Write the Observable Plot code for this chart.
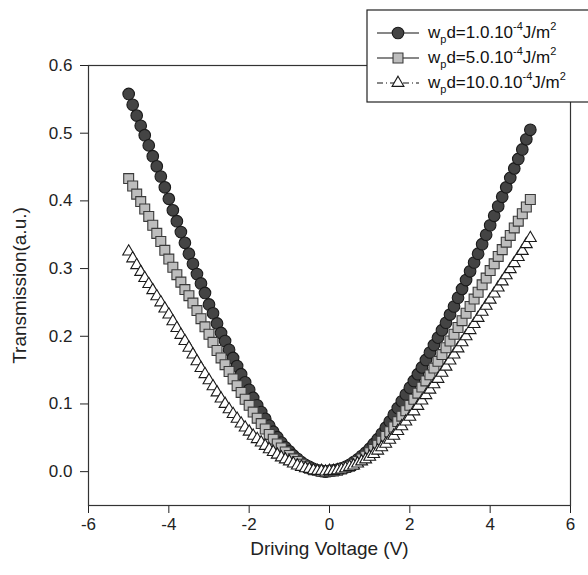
<!DOCTYPE html>
<html><head><meta charset="utf-8">
<script src="https://cdn.jsdelivr.net/npm/d3@7"></script>
<script src="https://cdn.jsdelivr.net/npm/@observablehq/plot@0.6"></script>
<style>
body{margin:0;background:#fff;}
#wrap{position:relative;width:588px;height:575px;overflow:hidden;}
</style></head><body><div id="wrap"></div>
<script>
const voltage = [-5.0,-4.9,-4.8,-4.7,-4.6,-4.5,-4.4,-4.3,-4.2,-4.1,-4.0,-3.9,-3.8,-3.7,-3.6,-3.5,-3.4,-3.3,-3.2,-3.1,-3.0,-2.9,-2.8,-2.7,-2.6,-2.5,-2.4,-2.3,-2.2,-2.1,-2.0,-1.9,-1.8,-1.7,-1.6,-1.5,-1.4,-1.3,-1.2,-1.1,-1.0,-0.9,-0.8,-0.7,-0.6,-0.5,-0.4,-0.3,-0.2,-0.1,0.0,0.1,0.2,0.3,0.4,0.5,0.6,0.7,0.8,0.9,1.0,1.1,1.2,1.3,1.4,1.5,1.6,1.7,1.8,1.9,2.0,2.1,2.2,2.3,2.4,2.5,2.6,2.7,2.8,2.9,3.0,3.1,3.2,3.3,3.4,3.5,3.6,3.7,3.8,3.9,4.0,4.1,4.2,4.3,4.4,4.5,4.6,4.7,4.8,4.9,5.0];

const wp1 = [0.558,0.542,0.526,0.511,0.497,0.482,0.466,0.451,0.436,0.420,0.403,0.386,0.370,0.354,0.338,0.322,0.307,0.292,0.278,0.264,0.247,0.234,0.219,0.205,0.193,0.180,0.168,0.156,0.144,0.132,0.121,0.109,0.098,0.088,0.078,0.068,0.059,0.051,0.043,0.036,0.030,0.024,0.019,0.014,0.010,0.007,0.004,0.002,0.001,0.000,0.001,0.002,0.003,0.005,0.007,0.010,0.014,0.018,0.023,0.028,0.034,0.041,0.048,0.056,0.065,0.074,0.084,0.094,0.104,0.114,0.124,0.134,0.144,0.154,0.165,0.176,0.187,0.198,0.209,0.220,0.232,0.244,0.257,0.270,0.283,0.296,0.309,0.322,0.336,0.350,0.364,0.378,0.392,0.406,0.420,0.434,0.448,0.462,0.476,0.491,0.505];

const wp5 = [0.433,0.422,0.410,0.399,0.388,0.377,0.364,0.352,0.340,0.327,0.314,0.302,0.291,0.280,0.269,0.260,0.249,0.238,0.226,0.214,0.203,0.191,0.179,0.168,0.158,0.148,0.137,0.127,0.117,0.107,0.098,0.088,0.079,0.071,0.063,0.055,0.048,0.041,0.035,0.029,0.024,0.019,0.015,0.011,0.008,0.005,0.003,0.002,0.001,0.000,0.001,0.001,0.002,0.004,0.006,0.008,0.011,0.015,0.019,0.023,0.028,0.033,0.039,0.045,0.052,0.059,0.066,0.074,0.082,0.090,0.098,0.107,0.116,0.125,0.134,0.143,0.153,0.163,0.173,0.183,0.193,0.203,0.213,0.223,0.234,0.244,0.255,0.265,0.276,0.286,0.297,0.307,0.318,0.328,0.339,0.349,0.360,0.370,0.381,0.391,0.402];

const wp10 = [0.325,0.315,0.305,0.295,0.286,0.277,0.268,0.259,0.250,0.241,0.232,0.222,0.212,0.202,0.193,0.183,0.173,0.163,0.153,0.144,0.135,0.126,0.117,0.108,0.100,0.092,0.085,0.078,0.071,0.065,0.059,0.053,0.048,0.043,0.038,0.033,0.029,0.025,0.021,0.018,0.015,0.012,0.009,0.007,0.005,0.004,0.002,0.001,0.001,0.000,0.001,0.001,0.002,0.003,0.005,0.007,0.009,0.012,0.015,0.018,0.022,0.026,0.031,0.036,0.041,0.047,0.053,0.060,0.067,0.074,0.081,0.089,0.097,0.105,0.113,0.121,0.129,0.137,0.146,0.155,0.164,0.173,0.182,0.191,0.200,0.209,0.218,0.227,0.236,0.245,0.254,0.263,0.272,0.281,0.290,0.299,0.308,0.317,0.326,0.336,0.345];

const xTicks = [-6,-4,-2,0,2,4,6];
const yTicks = [0.0,0.1,0.2,0.3,0.4,0.5,0.6];

const seriesNames = ["1.0","5.0","10.0"];
const symbols = ["circle","square","triangle"];
const fills = ["#444444","#bdbdbd","#ffffff"];
const strokes = ["#1a1a1a","#3a3a3a","#1a1a1a"];
const radii = [5.8,5.6,4.4];
const dashes = [null,null,"6,3,1,3"];

const seriesVals = [wp1, wp5, wp10];
const data = seriesVals.map((vals, s) => voltage.map((v, i) => ({v, t: vals[i], s})));

const font = "'Liberation Sans', Arial, Helvetica, sans-serif";

const marks = [];
data.forEach((d, s) => {
  marks.push(Plot.line(d, {x: "v", y: "t", stroke: "#111", strokeWidth: 1, strokeDasharray: dashes[s]}));
});
data.forEach((d, s) => {
  marks.push(Plot.dot(d, {x: "v", y: "t", symbol: () => symbols[s], r: radii[s], fill: fills[s], stroke: strokes[s], strokeWidth: 1.1}));
});

const chart = Plot.plot({
  width: 588,
  height: 575,
  marginLeft: 88,
  marginRight: 18,
  marginTop: 65,
  marginBottom: 70,
  style: {fontFamily: font, fontSize: "17px", color: "#222", background: "#fff"},
  x: {domain: [-6, 6]},
  y: {domain: [-0.05, 0.6]},
  symbol: {type: "identity"},
  marks: [
    Plot.axisX({ticks: xTicks, tickSize: 8, tickPadding: 4, fontSize: 17, tickFormat: d => String(d), label: "Driving Voltage (V)", labelAnchor: "center", labelArrow: "none", labelOffset: 49}),
    Plot.axisY({ticks: yTicks, tickSize: 8, tickPadding: 8, tickFormat: d => d.toFixed(1), fontSize: 17, label: "Transmission(a.u.)", labelAnchor: "center", labelArrow: "none", labelOffset: 76}),
    ...marks,
    Plot.frame({stroke: "#333", strokeWidth: 1.2})
  ]
});
document.getElementById("wrap").appendChild(chart);

// bigger axis titles
d3.select(chart).selectAll("g[aria-label='x-axis label'] text, g[aria-label='y-axis label'] text").style("font-size", "19px");

// legend
const svg = d3.select(chart);
const lg = svg.append("g").attr("font-family", font).attr("text-anchor", "start");
lg.append("rect").attr("x", 367).attr("y", 10).attr("width", 240).attr("height", 92)
  .attr("fill", "#fff").attr("stroke", "#222").attr("stroke-width", 1.2);
const rowY = [33, 58, 83];
seriesNames.forEach((name, s) => {
  const y = rowY[s];
  lg.append("line").attr("x1", 377).attr("x2", 419).attr("y1", y).attr("y2", y)
    .attr("stroke", "#111").attr("stroke-width", 1.2).attr("stroke-dasharray", dashes[s]);
  const sym = {circle: d3.symbolCircle, square: d3.symbolSquare, triangle: d3.symbolTriangle}[symbols[s]];
  lg.append("path").attr("transform", `translate(398,${y})`)
    .attr("d", d3.symbol(sym, Math.PI * radii[s] * radii[s])())
    .attr("fill", fills[s]).attr("stroke", strokes[s]).attr("stroke-width", 1.1);
  const t = lg.append("text").attr("x", 428).attr("y", y + 5).attr("font-size", 17).attr("fill", "#111");
  t.append("tspan").text("w");
  t.append("tspan").attr("dy", 5).attr("font-size", 11).text("p");
  t.append("tspan").attr("dy", -5).text(`d=${name}.10`);
  t.append("tspan").attr("dy", -8).attr("font-size", 11).text("-4");
  t.append("tspan").attr("dy", 8).text("J/m");
  t.append("tspan").attr("dy", -8).attr("font-size", 11).text("2");
});
</script></body></html>
